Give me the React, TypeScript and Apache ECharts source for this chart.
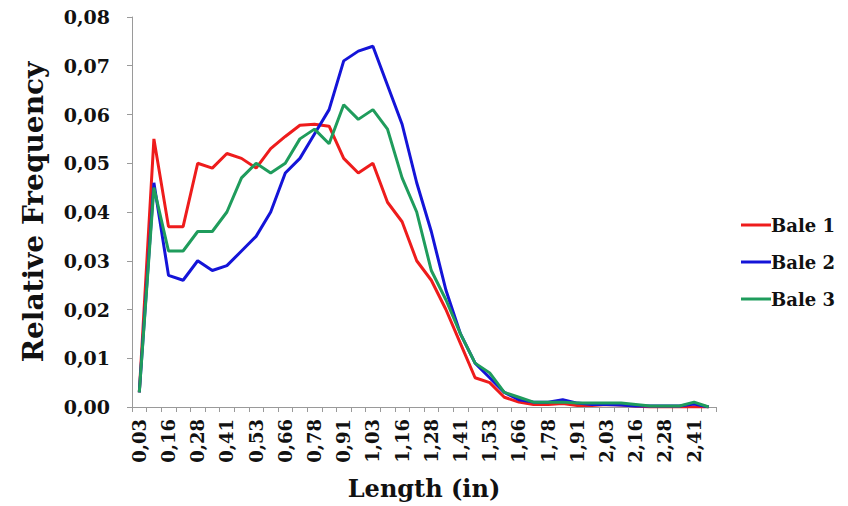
import React, { useEffect, useRef } from "react";
import * as echarts from "echarts";

const categories = [
  "0,03", "0,09", "0,16", "0,22", "0,28", "0,34", "0,41", "0,47", "0,53", "0,59",
  "0,66", "0,72", "0,78", "0,84", "0,91", "0,97", "1,03", "1,09", "1,16", "1,22",
  "1,28", "1,34", "1,41", "1,47", "1,53", "1,59", "1,66", "1,72", "1,78", "1,84",
  "1,91", "1,97", "2,03", "2,09", "2,16", "2,22", "2,28", "2,34", "2,41", "2,47",
];

const bale1 = [
  0.003, 0.055, 0.037, 0.037, 0.050, 0.049, 0.052, 0.051, 0.049, 0.053,
  0.0555, 0.0578, 0.058, 0.0576, 0.051, 0.048, 0.050, 0.042, 0.038, 0.030,
  0.026, 0.020, 0.013, 0.006, 0.005, 0.002, 0.001, 0.0005, 0.0005, 0.0007,
  0.0003, 0.0003, 0.0005, 0.0004, 0.0002, 0, 0, 0, 0, 0,
];

const bale2 = [
  0.003, 0.046, 0.027, 0.026, 0.030, 0.028, 0.029, 0.032, 0.035, 0.040,
  0.048, 0.051, 0.056, 0.061, 0.071, 0.073, 0.074, 0.066, 0.058, 0.046,
  0.036, 0.024, 0.015, 0.009, 0.006, 0.003, 0.0015, 0.001, 0.001, 0.0015,
  0.0008, 0.0005, 0.0005, 0.0004, 0.0002, 0.0002, 0.0002, 0.0002, 0.0006, 0,
];

const bale3 = [
  0.003, 0.045, 0.032, 0.032, 0.036, 0.036, 0.040, 0.047, 0.050, 0.048,
  0.050, 0.055, 0.057, 0.054, 0.062, 0.059, 0.061, 0.057, 0.047, 0.040,
  0.028, 0.022, 0.015, 0.009, 0.007, 0.003, 0.002, 0.001, 0.001, 0.001,
  0.0008, 0.0008, 0.0008, 0.0008, 0.0005, 0.0002, 0.0002, 0.0002, 0.001, 0,
];

const seriesNames = ["Bale 1", "Bale 2", "Bale 3"];
const seriesColors = ["#ee1c1c", "#1414d8", "#1f9c5c"];

const FONT = "DejaVu Serif";

export default function App() {
  const ref = useRef<HTMLDivElement>(null);
  useEffect(() => {
    if (!ref.current) return;
    const chart = echarts.init(ref.current, null, { renderer: "svg" });
    const dataSets = [bale1, bale2, bale3];
    chart.setOption({
      animation: false,
      backgroundColor: "#ffffff",
      grid: { left: 132, right: 132, top: 17, bottom: 99, containLabel: false },
      legend: {
        orient: "vertical",
        left: 736,
        top: 211,
        itemGap: 19,
        itemWidth: 30,
        itemHeight: 3,
        icon: "rect",
        textStyle: { fontFamily: FONT, fontWeight: "bold", fontSize: 18, color: "#111", padding: [0, 0, 0, -5] },
        data: seriesNames,
      },
      xAxis: {
        type: "category",
        data: categories,
        boundaryGap: true,
        name: "Length (in)",
        nameLocation: "middle",
        nameGap: 69,
        nameTextStyle: { fontFamily: FONT, fontWeight: "bold", fontSize: 24, color: "#111" },
        axisLine: { lineStyle: { color: "#9a9a9a", width: 1 } },
        axisTick: { show: true, alignWithLabel: false, interval: 0, length: 5, lineStyle: { color: "#9a9a9a" } },
        axisLabel: {
          interval: 1,
          rotate: 90,
          margin: 12,
          fontFamily: FONT,
          fontWeight: "bold",
          fontSize: 18,
          color: "#111",
        },
        splitLine: { show: false },
      },
      yAxis: {
        type: "value",
        min: 0,
        max: 0.08,
        interval: 0.01,
        name: "Relative Frequency",
        nameLocation: "middle",
        nameGap: 85,
        nameRotate: 90,
        nameTextStyle: { fontFamily: FONT, fontWeight: "bold", fontSize: 28, color: "#111" },
        axisLine: { show: true, lineStyle: { color: "#9a9a9a", width: 1 } },
        axisTick: { show: true, length: 5, lineStyle: { color: "#9a9a9a" } },
        axisLabel: {
          margin: 22,
          fontFamily: FONT,
          fontWeight: "bold",
          fontSize: 19,
          color: "#111",
          formatter: (v: number) => v.toFixed(2).replace(".", ","),
        },
        splitLine: { show: false },
      },
      series: seriesNames.map((name, i) => ({
        name,
        type: "line",
        data: dataSets[i],
        showSymbol: false,
        symbol: "none",
        smooth: false,
        lineStyle: { color: seriesColors[i], width: 3 },
        itemStyle: { color: seriesColors[i] },
      })),
    });
    return () => chart.dispose();
  }, []);
  return (
    <div
      ref={ref}
      style={{ position: "fixed", left: 0, top: 0, width: 848, height: 506 }}
    />
  );
}
